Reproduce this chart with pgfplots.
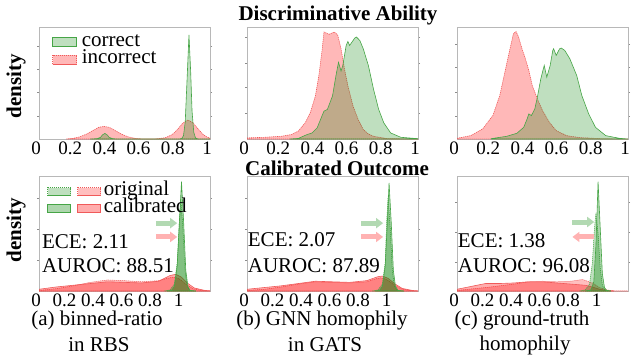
\documentclass[border=0pt]{standalone}
\usepackage{pgfplots}
\pgfplotsset{compat=1.18}
\usepackage{fontspec}
\setmainfont{Liberation Serif}
\usetikzlibrary{arrows.meta}
\definecolor{mgreen}{RGB}{0,128,0}
\definecolor{mred}{RGB}{255,0,0}
\definecolor{gedge}{RGB}{70,165,70}
\definecolor{redge}{RGB}{240,90,90}
\definecolor{garrow}{RGB}{178,217,178}
\definecolor{rarrow}{RGB}{255,178,178}
\newcommand{\fs}[1]{\fontsize{#1}{#1}\selectfont}
\tikzset{
  corr/.style={draw=gedge, line width=0.6pt, fill=mgreen, fill opacity=0.25},
  inc/.style={draw=redge, line width=0.6pt, dash pattern=on 1.2pt off 0.8pt, fill=mred, fill opacity=0.28},
  orig g/.style={draw=gedge, line width=0.5pt, dash pattern=on 1.2pt off 0.8pt, fill=mgreen, fill opacity=0.25},
  cal g/.style={draw=gedge, line width=0.6pt, fill=mgreen, fill opacity=0.32},
  orig r/.style={draw=redge, line width=0.5pt, dash pattern=on 1.2pt off 0.8pt, fill=mred, fill opacity=0.25},
  cal r/.style={draw=redge, line width=0.6pt, fill=mred, fill opacity=0.32},
  garr/.style={draw=garrow, line width=5pt, -{Triangle[length=7pt,width=10pt]}},
  rarr/.style={draw=rarrow, line width=5pt, -{Triangle[length=7pt,width=10pt]}},
  note/.style={anchor=west, font=\fs{21}, inner sep=0pt},
  subcap/.style={font=\fs{21}, inner sep=0pt},
}
\pgfplotsset{
  kde/.style={scale only axis, width=171pt, xmin=0, ymin=0, ymax=100,
    axis line style={draw=black!28},
    tick align=outside, major tick length=2pt,
    xtick={0,0.2,0.4,0.6,0.8,1}, xticklabels={0,0.2,0.4,0.6,0.8,1},
    xtick style={draw=none}, ytick style={draw=black!45, line width=0.4pt},
    yticklabels={},
    xticklabel style={font=\fs{19}, inner sep=0.5pt, xshift=-3pt},
    legend image code/.code={\draw[##1] (0pt,-4.5pt) rectangle (24pt,4.5pt);},
  },
  toprow/.style={kde, height=112pt, xmax=1},
  botrow/.style={kde, height=115pt, xmax=1.2},
}
\begin{document}
\begin{tikzpicture}
\useasboundingbox (0pt,0pt) rectangle (634pt,360pt);
% ---------- top row ----------
\begin{axis}[toprow, at={(39pt,221pt)}, anchor=south west,
  ytick={20.8,41.6,62.4,83.2},
  legend style={at={(0,1)}, anchor=north west, draw=none, fill=none, font=\fs{21},
    inner sep=0pt, xshift=13pt, yshift=-7pt, row sep=1.5pt, column sep=5pt,
    nodes={inner sep=0pt, text height=12pt, text depth=4pt}},
  legend cell align=left]
\addlegendimage{corr}\addlegendentry{correct}
\addlegendimage{inc}\addlegendentry{incorrect}
\addplot[inc, forget plot] coordinates {(0.16,0) (0.20,0.6) (0.24,2) (0.28,4.5) (0.32,8) (0.35,10.5) (0.38,11.2) (0.41,10.5) (0.44,8) (0.48,4.5) (0.52,2) (0.56,0.6) (0.60,0.1) (0.66,0) (0.70,0.3) (0.74,1.2) (0.78,4) (0.81,8.5) (0.84,14) (0.87,17) (0.90,14.5) (0.93,9) (0.96,4) (0.98,2) (1.0,0.8)} \closedcycle;
\addplot[corr, forget plot] coordinates {(0.30,0) (0.34,0.3) (0.36,1.5) (0.37,3.5) (0.385,5) (0.40,3.5) (0.41,1.5) (0.43,0.3) (0.46,0) (0.82,0) (0.835,0.5) (0.845,3) (0.855,15) (0.865,50) (0.877,93) (0.887,60) (0.895,25) (0.905,6) (0.915,1) (0.93,0) (1,0)} \closedcycle;
\end{axis}
\begin{axis}[toprow, at={(247pt,221pt)}, anchor=south west,
  ytick={23,46,68,91}]
\addplot[inc] coordinates {(0,1) (0.1,1.5) (0.2,2.4) (0.26,4) (0.3,7) (0.34,14.4) (0.37,23.4) (0.40,38.4) (0.42,56.4) (0.44,80.5) (0.45,95.5) (0.465,94.5) (0.48,93.4) (0.495,94.5) (0.51,95.5) (0.53,93) (0.55,80.5) (0.57,62.5) (0.59,47.4) (0.62,29.4) (0.65,17.4) (0.68,8.4) (0.71,4.5) (0.74,2.4) (0.82,0.3) (1.0,0)} \closedcycle;
\addplot[corr] coordinates {(0.25,0) (0.30,0.5) (0.35,3.9) (0.38,5.4) (0.41,9.9) (0.43,17.4) (0.45,24.9) (0.47,26.4) (0.50,38.4) (0.52,56.4) (0.535,68.5) (0.55,60.7) (0.56,65.5) (0.58,83.5) (0.59,87.1) (0.60,83.5) (0.63,90.1) (0.64,91) (0.66,87.9) (0.68,80.5) (0.71,65.5) (0.74,44.4) (0.77,26.4) (0.80,14.4) (0.84,5.4) (0.90,1.5) (1.0,0.3)} \closedcycle;
\end{axis}
\begin{axis}[toprow, at={(457pt,221pt)}, anchor=south west,
  ytick={20,42,64,85}]
\addplot[inc] coordinates {(0,0.6) (0.08,3) (0.15,9) (0.21,21) (0.25,38.8) (0.28,59.7) (0.31,80.6) (0.33,94) (0.345,96) (0.36,91) (0.38,80.6) (0.40,71.6) (0.42,61.2) (0.44,47.8) (0.47,35.8) (0.50,25.4) (0.54,14.9) (0.58,7.5) (0.64,3) (0.72,1.2) (0.85,0.3) (1,0)} \closedcycle;
\addplot[corr] coordinates {(0.20,0.3) (0.29,2.4) (0.35,5.1) (0.39,10.4) (0.41,17.9) (0.42,22.4) (0.435,20.9) (0.455,26.9) (0.47,37.3) (0.49,53.7) (0.51,65.7) (0.525,55.2) (0.545,65.7) (0.56,79.1) (0.565,80.6) (0.58,74.6) (0.60,80.6) (0.61,81.2) (0.63,79.1) (0.66,71.6) (0.70,56.7) (0.73,38.8) (0.77,22.4) (0.81,10.4) (0.87,3) (0.95,0.6) (1.0,0)} \closedcycle;
\end{axis}
% ---------- bottom row ----------
\begin{axis}[botrow, at={(39pt,69pt)}, anchor=south west,
  ytick={27,54,81},
  legend style={at={(0,1)}, anchor=north west, draw=none, fill=none, font=\fs{21},
    inner sep=0pt, xshift=8pt, yshift=-7.5pt, row sep=1pt, column sep=3pt,
    nodes={inner sep=0pt, text height=12pt, text depth=4pt}},
  legend cell align=left]
\addlegendimage{legend image code/.code={\draw[orig g] (0pt,-4pt) rectangle (23pt,4pt); \draw[orig r] (30pt,-4pt) rectangle (53pt,4pt);}}\addlegendentry{original}
\addlegendimage{legend image code/.code={\draw[cal g] (0pt,-4pt) rectangle (23pt,4pt); \draw[cal r] (30pt,-4pt) rectangle (53pt,4pt);}}\addlegendentry{calibrated}
\addplot[orig r, forget plot] coordinates {(0,0.5) (0.12,2) (0.24,4.5) (0.36,7.5) (0.48,9.6) (0.6,9) (0.72,8) (0.84,9) (0.9,11) (0.94,12) (0.98,11) (1.03,6) (1.08,2) (1.15,0.3) (1.2,0)} \closedcycle;
\addplot[cal r, forget plot] coordinates {(0,1.5) (0.12,3.5) (0.24,5) (0.36,6.5) (0.48,8) (0.6,7.5) (0.72,7) (0.84,8.5) (0.92,13.5) (0.96,14.5) (1.0,12) (1.04,7) (1.09,2.6) (1.16,0.6) (1.2,0.2)} \closedcycle;
\addplot[orig g, forget plot] coordinates {(0.88,0) (0.92,1) (0.95,6) (0.97,25) (0.985,60) (0.995,80) (1.01,55) (1.025,18) (1.04,4) (1.06,0.5) (1.1,0)} \closedcycle;
\addplot[cal g, forget plot] coordinates {(0.9,0) (0.93,0.5) (0.95,4) (0.97,22) (0.985,60) (1.0,95) (1.015,60) (1.03,18) (1.045,4) (1.06,0.5) (1.1,0)} \closedcycle;
\draw[garr] (axis cs:0.82,59) -- (axis cs:0.97,59);
\draw[rarr] (axis cs:0.82,47) -- (axis cs:0.97,47);
\node[note] at (axis cs:0.02,42.6) {ECE: 2.11};
\node[note] at (axis cs:0.02,21.7) {AUROC: 88.51};
\end{axis}
\begin{axis}[botrow, at={(247pt,69pt)}, anchor=south west,
  ytick={27,54,81}]
\addplot[orig r] coordinates {(0,0.5) (0.12,1.5) (0.24,3.5) (0.36,6) (0.48,8) (0.6,7.5) (0.72,7) (0.84,8) (0.9,10.5) (0.94,11.5) (0.98,10) (1.03,5.5) (1.08,2) (1.15,0.3) (1.2,0)} \closedcycle;
\addplot[cal r] coordinates {(0,1.5) (0.12,3) (0.24,4.5) (0.36,6.5) (0.48,8.5) (0.6,8) (0.72,7.5) (0.84,9) (0.92,12.5) (0.95,13) (0.99,11) (1.04,6) (1.09,2.2) (1.16,0.5) (1.2,0.1)} \closedcycle;
\addplot[orig g] coordinates {(0.88,0) (0.92,1) (0.95,6) (0.97,25) (0.98,60) (0.99,82) (1.005,55) (1.02,18) (1.035,4) (1.055,0.5) (1.1,0)} \closedcycle;
\addplot[cal g] coordinates {(0.9,0) (0.93,0.5) (0.95,4) (0.97,22) (0.985,60) (0.997,94) (1.012,60) (1.027,18) (1.042,4) (1.06,0.5) (1.1,0)} \closedcycle;
\draw[garr] (axis cs:0.80,59) -- (axis cs:0.955,59);
\draw[rarr] (axis cs:0.80,47) -- (axis cs:0.955,47);
\node[note] at (axis cs:0.005,45) {ECE: 2.07};
\node[note] at (axis cs:0.005,21.7) {AUROC: 87.89};
\end{axis}
\begin{axis}[botrow, at={(457pt,69pt)}, anchor=south west,
  ytick={25,51,77}]
\addplot[orig r] coordinates {(0,0.5) (0.2,3) (0.4,6) (0.5,8) (0.6,8.5) (0.7,8) (0.8,8.5) (0.88,10) (0.95,7) (1.0,3) (1.05,1) (1.1,0.2) (1.2,0)} \closedcycle;
\addplot[cal r] coordinates {(0,1.5) (0.1,4) (0.2,6.5) (0.3,6.5) (0.4,7) (0.5,8) (0.6,8) (0.7,7) (0.8,6) (0.9,5) (0.95,3.5) (1.0,1.5) (1.05,0.5) (1.1,0)} \closedcycle;
\addplot[orig g] coordinates {(0.86,0) (0.9,1) (0.93,6) (0.95,25) (0.965,55) (0.975,68) (0.99,50) (1.005,20) (1.02,5) (1.04,0.5) (1.08,0)} \closedcycle;
\addplot[cal g] coordinates {(0.9,0) (0.94,1) (0.96,8) (0.975,40) (0.99,95) (1.005,55) (1.02,15) (1.035,3) (1.05,0.5) (1.08,0)} \closedcycle;
\draw[garr] (axis cs:0.81,60) -- (axis cs:0.963,60);
\draw[rarr] (axis cs:0.963,47) -- (axis cs:0.81,47);
\node[note] at (axis cs:0.005,44) {ECE: 1.38};
\node[note] at (axis cs:0.005,21.7) {AUROC: 96.08};
\end{axis}
% ---------- titles and captions ----------
\node[font=\bfseries\fs{21}] at (338pt,345pt) {Discriminative Ability};
\node[font=\bfseries\fs{21}] at (337pt,192pt) {Calibrated Outcome};
\node[font=\bfseries\fs{21}, rotate=90] at (16pt,274pt) {density};
\node[font=\bfseries\fs{21}, rotate=90] at (16pt,130pt) {density};
\node[subcap] at (97pt,40pt) {(a) binned-ratio};
\node[subcap] at (99pt,15pt) {in RBS};
\node[subcap] at (322pt,40pt) {(b) GNN homophily};
\node[subcap] at (325pt,15pt) {in GATS};
\node[subcap] at (522pt,40pt) {(c) ground-truth};
\node[subcap] at (525pt,15pt) {homophily};
\end{tikzpicture}
\end{document}
